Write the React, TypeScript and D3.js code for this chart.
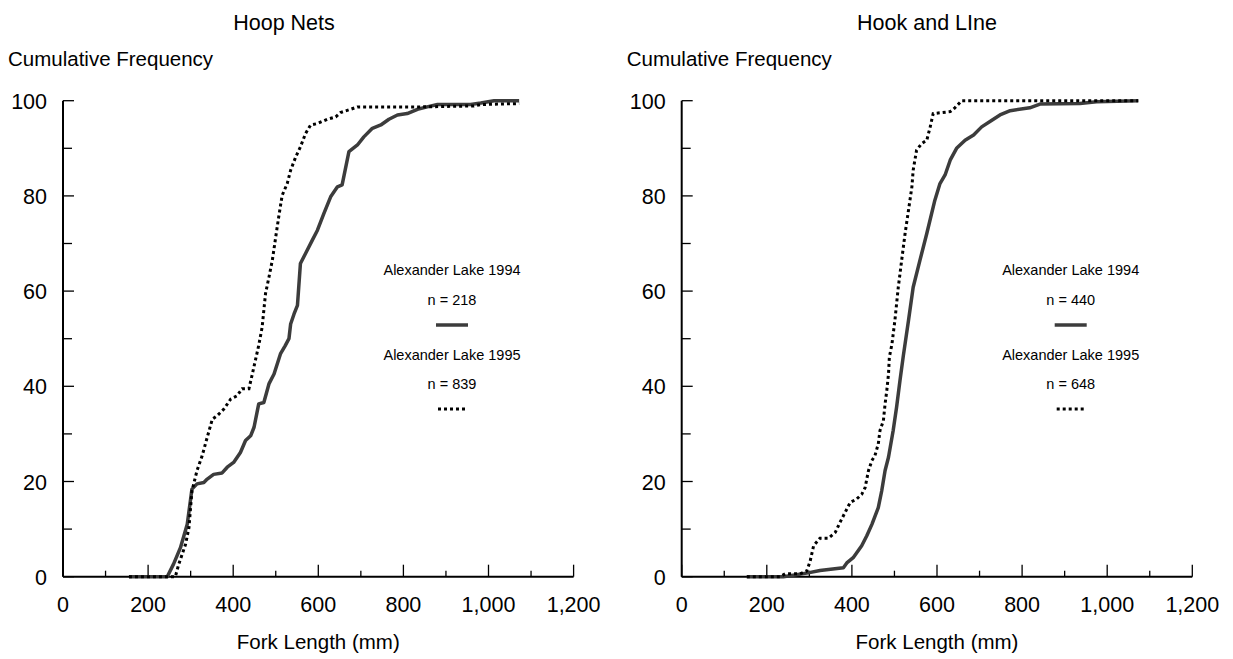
import React from "react";
import * as d3 from "d3";

// ---- data (fork length mm, cumulative frequency %) ----
const hoop1994: [number, number][] = [
  [155, 0], [245, 0], [260, 2.7], [276, 6.1], [292, 11], [303, 18.4], [315, 19.5], [331, 19.8], [339, 20.5],
  [354, 21.5], [374, 21.8], [386, 23], [401, 24], [417, 26.1], [429, 28.6], [441, 29.6], [449, 31.4], [460, 36.3],
  [472, 36.6], [484, 40.5], [496, 42.6], [511, 46.8], [522, 48.5], [531, 50], [535, 53.1], [543, 55.2], [551, 57],
  [558, 65.8], [570, 67.9], [586, 70.7], [598, 72.8], [613, 76.3], [629, 79.8], [645, 81.9], [656, 82.3], [672, 89.3],
  [692, 90.7], [707, 92.4], [727, 94.2], [747, 94.9], [766, 96.1], [786, 97], [809, 97.3], [833, 98.2], [856, 98.7],
  [880, 99.2], [958, 99.2], [982, 99.5], [1013, 100], [1072, 100],
];
const hoop1995: [number, number][] = [
  [155, 0], [264, 0], [272, 2.6], [288, 6.8], [296, 10.3], [303, 18], [315, 22.3], [327, 25.4], [339, 29.3],
  [351, 33.1], [362, 33.8], [378, 35.2], [394, 37.3], [409, 38], [421, 39.5], [437, 39.5], [445, 42.6], [452, 45.4],
  [460, 48.6], [468, 52.4], [476, 59.5], [484, 62.9], [492, 66.5], [500, 71.4], [507, 75.6], [515, 80.1], [527, 82.6],
  [535, 85.4], [547, 88.2], [558, 90.3], [570, 93.1], [582, 94.9], [598, 95.2], [621, 96.1], [641, 96.6], [652, 97.5],
  [676, 98.2], [692, 98.7], [841, 98.7], [966, 98.9], [982, 99.2], [1072, 99.4],
];
const hook1994: [number, number][] = [
  [153, 0], [239, 0], [254, 0.2], [297, 0.8], [325, 1.3], [380, 1.9], [388, 2.9], [403, 4], [423, 6.5], [435, 8.6],
  [447, 11], [462, 14.5], [470, 18], [478, 22.3], [486, 25.1], [497, 30.7], [505, 35.6], [513, 41.2], [521, 46.5],
  [533, 53.8], [544, 60.8], [560, 66.5], [576, 72.1], [595, 79.1], [607, 82.6], [619, 84.4], [631, 87.5], [646, 90],
  [666, 91.7], [686, 92.8], [705, 94.5], [729, 95.9], [748, 97], [772, 97.9], [818, 98.5], [842, 99.3], [936, 99.4],
  [975, 99.8], [1073, 100],
];
const hook1995: [number, number][] = [
  [153, 0], [231, 0], [243, 0.6], [278, 0.6], [294, 1.2], [302, 3.3], [310, 6.5], [325, 8.1], [345, 8.1], [361, 9.3],
  [372, 11.4], [384, 13.5], [396, 15.6], [411, 16.3], [423, 17.3], [431, 18.7], [439, 22.3], [447, 24.4], [454, 25.4],
  [462, 27.9], [466, 30.7], [474, 32.8], [478, 36.3], [482, 39.1], [486, 42.6], [488, 46.1], [494, 48.8], [501, 53.8],
  [509, 60.8], [517, 66.5], [525, 72.1], [533, 77], [541, 81.9], [544, 85.4], [552, 89.6], [564, 91], [576, 91.7],
  [584, 94.5], [591, 97.3], [631, 97.7], [642, 98.5], [658, 100], [1073, 100],
];

const panelTitles = ["Hoop Nets", "Hook and LIne"];
const seriesNames = ["Alexander Lake 1994", "Alexander Lake 1995"];
const hoopN = [218, 839];
const hookN = [440, 648];
const xTickValues = [0, 100, 200, 300, 400, 500, 600, 700, 800, 900, 1000, 1100, 1200];
const yTickValues = [0, 10, 20, 30, 40, 50, 60, 70, 80, 90, 100];

const FONT = "'Liberation Sans', Arial, Helvetica, sans-serif";
const fmt = d3.format(",");

type PanelProps = {
  left: number;
  title: string;
  titleX: number;
  solid: [number, number][];
  dotted: [number, number][];
  ns: number[];
};

function Panel({ left, title, titleX, solid, dotted, ns }: PanelProps) {
  const width = 510.6;
  const top = 100.7;
  const bottom = 576.7;
  const x = d3.scaleLinear().domain([0, 1200]).range([left, left + width]);
  const y = d3.scaleLinear().domain([0, 100]).range([bottom, top]);
  const line = d3
    .line<[number, number]>()
    .x((d) => x(d[0]))
    .y((d) => y(d[1]));
  const legX = left + 389;
  return (
    <g fontFamily={FONT} fill="#000">
      <text x={titleX} y={30} fontSize={21.5} textAnchor="middle">{title}</text>
      <text x={left - 55} y={66} fontSize={20.5}>Cumulative Frequency</text>

      {/* y ticks */}
      {yTickValues.map((v) => (
        <line key={"yt" + v} x1={left} x2={left + (v % 20 === 0 ? 11 : 9)} y1={y(v)} y2={y(v)} stroke="#000" strokeWidth={1.3} />
      ))}
      {yTickValues.filter((v) => v % 20 === 0).map((v) => (
        <text key={"yl" + v} x={left - 16} y={y(v) + 8} fontSize={21.5} textAnchor="end">{v}</text>
      ))}
      {/* x ticks */}
      {xTickValues.map((v) => (
        <line key={"xt" + v} x1={x(v)} x2={x(v)} y1={bottom} y2={bottom - (v % 200 === 0 ? 12 : 6)} stroke="#000" strokeWidth={1.3} />
      ))}
      {xTickValues.filter((v) => v % 200 === 0).map((v) => (
        <text key={"xl" + v} x={x(v)} y={612} fontSize={21.5} textAnchor="middle">{fmt(v)}</text>
      ))}
      {/* axes */}
      <line x1={left} x2={left} y1={top} y2={bottom} stroke="#000" strokeWidth={2} />
      <line x1={left} x2={left + width} y1={bottom} y2={bottom} stroke="#000" strokeWidth={2} />
      <text x={left + width / 2} y={649} fontSize={20.5} textAnchor="middle">Fork Length (mm)</text>

      {/* series */}
      <path d={line(solid) || ""} fill="none" stroke="#3c3c3c" strokeWidth={3.5} strokeLinejoin="round" />
      <path d={line(dotted) || ""} fill="none" stroke="#000" strokeWidth={3} strokeDasharray="3 3" />

      {/* legend */}
      <text x={legX} y={275} fontSize={14.5} textAnchor="middle">{seriesNames[0]}</text>
      <text x={legX} y={305} fontSize={14.5} textAnchor="middle">{"n = " + ns[0]}</text>
      <line x1={legX - 16} x2={legX + 16} y1={325} y2={325} stroke="#3c3c3c" strokeWidth={3.5} />
      <text x={legX} y={360} fontSize={14.5} textAnchor="middle">{seriesNames[1]}</text>
      <text x={legX} y={389} fontSize={14.5} textAnchor="middle">{"n = " + ns[1]}</text>
      <line x1={legX - 14} x2={legX + 15} y1={409} y2={409} stroke="#000" strokeWidth={3} strokeDasharray="3 3" />
    </g>
  );
}

export default function App() {
  return (
    <svg width={1233} height={659} style={{ position: "absolute", left: 0, top: 0, background: "#fff" }}>
      <rect x={0} y={0} width={1233} height={659} fill="#fff" />
      <Panel left={63} title={panelTitles[0]} titleX={284} solid={hoop1994} dotted={hoop1995} ns={hoopN} />
      <Panel left={681.7} title={panelTitles[1]} titleX={927} solid={hook1994} dotted={hook1995} ns={hookN} />
    </svg>
  );
}
